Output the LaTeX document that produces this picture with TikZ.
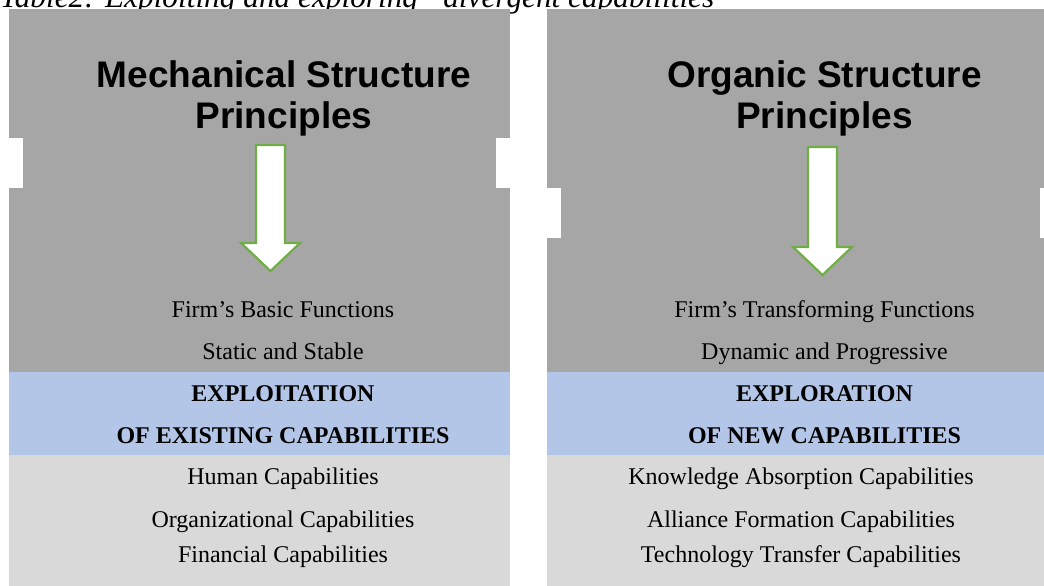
\documentclass[tikz,border=0pt]{standalone}
\usepackage{fontspec}
\setmainfont{Liberation Serif}
\setsansfont{Liberation Sans}
\definecolor{boxgray}{HTML}{A6A6A6}
\definecolor{boxblue}{HTML}{B4C6E7}
\definecolor{boxlight}{HTML}{D9D9D9}
\definecolor{arrowgreen}{HTML}{70AD47}
\tikzset{
  txt/.style={anchor=base, inner sep=0pt, font=\fontsize{24}{28}\selectfont},
  boldtxt/.style={txt, font=\fontsize{24}{28}\selectfont\bfseries},
  headtxt/.style={anchor=base, inner sep=0pt, font=\fontsize{37}{42}\selectfont\sffamily\bfseries},
  blockarrow/.style={draw=arrowgreen, fill=white, line width=2.2pt, line join=miter},
}

\begin{document}
\begin{tikzpicture}[x=1pt, y=-1pt]
	\useasboundingbox (0,0) rectangle (1044,586);

	% caption, cut off at the top
	\node[anchor=base west, inner sep=0pt, font=\fontsize{31.3}{36}\selectfont\itshape] (caption) at (0,7.5) {Table2: Exploiting and exploring “divergent capabilities};

	% left column
	\fill[boxgray] (9,9) rectangle (510,372);
	\fill[white] (9,138) rectangle (23,188);
	\fill[white] (496,138) rectangle (510,188);
	\fill[boxblue] (9,372) rectangle (510,455);
	\fill[boxlight] (9,455) rectangle (510,586);

	% right column
	\fill[boxgray] (547,9) rectangle (1044,372);
	\fill[white] (547,188) rectangle (561,238);
	\fill[white] (1040,188) rectangle (1044,238);
	\fill[boxblue] (547,372) rectangle (1044,455);
	\fill[boxlight] (547,455) rectangle (1044,586);

	% block arrows
	\draw[blockarrow] (256,145) -- (285,145) -- (285,243) -- (300,243) -- (270.5,271) -- (241,243) -- (256,243) -- cycle;
	\draw[blockarrow] (808,147) -- (837,147) -- (837,247) -- (852,247) -- (822.5,275) -- (793,247) -- (808,247) -- cycle;

	% left texts
	\node[headtxt] (mech1) at (284,88) {Mechanical Structure};
	\node[headtxt] (mech2) at (284,128) {Principles};
	\node[txt] (basic) at (283,317) {Firm’s Basic Functions};
	\node[txt] (static) at (283,359) {Static and Stable};
	\node[boldtxt] (exploit1) at (283,401) {EXPLOITATION};
	\node[boldtxt] (exploit2) at (283,443) {OF EXISTING CAPABILITIES};
	\node[txt] (human) at (283,484) {Human Capabilities};
	\node[txt] (organiz) at (283,527) {Organizational Capabilities};
	\node[txt] (financ) at (283,562) {Financial Capabilities};

	% right texts
	\node[headtxt] (org1) at (824.5,88) {Organic Structure};
	\node[headtxt] (org2) at (824.5,128) {Principles};
	\node[txt] (transf) at (824.5,317) {Firm’s Transforming Functions};
	\node[txt] (dynamic) at (824.5,359) {Dynamic and Progressive};
	\node[boldtxt] (explore1) at (824.5,401) {EXPLORATION};
	\node[boldtxt] (explore2) at (824.5,443) {OF NEW CAPABILITIES};
	\node[txt] (knowl) at (801,484) {Knowledge Absorption Capabilities};
	\node[txt] (alliance) at (801,527) {Alliance Formation Capabilities};
	\node[txt] (techtr) at (801,562) {Technology Transfer Capabilities};
\end{tikzpicture}
\end{document}
